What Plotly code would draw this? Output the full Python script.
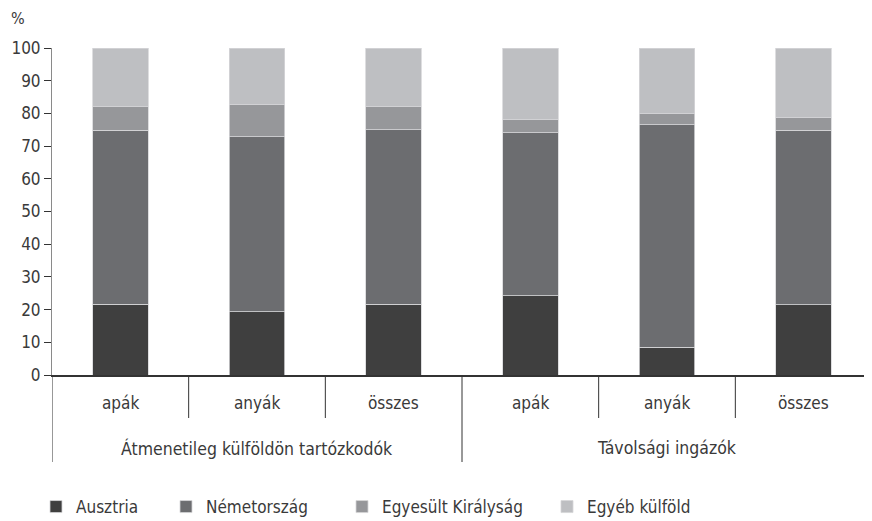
import plotly.graph_objects as go

# Adatok
groups = ['Átmenetileg külföldön tartózkodók', 'Távolsági ingázók']
subgroups = ['apák', 'anyák', 'összes', 'apák', 'anyák', 'összes']
series = ['Ausztria', 'Németország', 'Egyesült Királyság', 'Egyéb külföld']
ausztria = [21.6, 19.3, 21.7, 24.3, 8.5, 21.5]
nemetorszag = [53.2, 53.6, 53.3, 49.8, 68.0, 53.3]
egyesult_kiralysag = [7.2, 9.7, 7.0, 3.9, 3.4, 3.9]
egyeb = [18.0, 17.4, 18.0, 22.0, 20.1, 21.3]
y_ticks = [0, 10, 20, 30, 40, 50, 60, 70, 80, 90, 100]

colors = ['#3f3f3f', '#6c6d70', '#96979a', '#bebfc2']
FONT = 'Liberation Sans Narrow, DejaVu Sans Condensed, sans-serif'
TXT = '#3a3a3a'
# a böngésző 8px-es body margója miatt minden 8px-lel beljebb
OFF = 8
W, H = 872 - OFF, 521 - OFF
L, T = 52 - OFF, 48 - OFF
Y0 = 375 - OFF          # x tengely vonala
B = H - Y0
PH = Y0 - T

x = list(range(len(subgroups)))
fig = go.Figure()
legend_x = [49, 179, 355, 560]   # jelölő négyzetek bal széle a referencián
legend_names = ['legend', 'legend2', 'legend3', 'legend4']
for name, vals, col, lg in zip(series, [ausztria, nemetorszag, egyesult_kiralysag, egyeb], colors, legend_names):
    fig.add_trace(go.Bar(x=x, y=vals, name=name, legend=lg,
                         marker=dict(color=col, line=dict(color='#d6d6d8', width=0.8))))

# Elválasztó vonalak a kategóriák alatt
shapes = []
for b in [0.5, 1.5, 3.5, 4.5]:
    shapes.append(dict(type='line', xref='x', yref='paper', x0=b, x1=b, y0=0, y1=-(418 - 375) / PH,
                       line=dict(color='#333333', width=1)))
for b in [-0.5, 2.5]:
    shapes.append(dict(type='line', xref='x', yref='paper', x0=b, x1=b, y0=0, y1=-(462 - 375) / PH,
                       line=dict(color='#333333', width=1)))

annotations = [
    dict(text=groups[0], x=1, y=-(448 - 375) / PH, xref='x', yref='paper', showarrow=False,
         font=dict(family=FONT, size=17.5, color=TXT), yanchor='middle'),
    dict(text=groups[1], x=4, y=-(448 - 375) / PH, xref='x', yref='paper', showarrow=False,
         font=dict(family=FONT, size=17.5, color=TXT), yanchor='middle'),
    dict(text='%', x=(18 - 52) / (W - L), y=(375 - 18) / PH, xref='paper', yref='paper', showarrow=False,
         font=dict(family=FONT, size=16, color=TXT), xanchor='center', yanchor='middle'),
]
for i, s in enumerate(subgroups):
    annotations.append(dict(text=s, x=i, y=-(403 - 375) / PH, xref='x', yref='paper', showarrow=False,
                            font=dict(family=FONT, size=17, color=TXT), yanchor='middle'))

layout_legends = {}
for lg, lx in zip(legend_names, legend_x):
    layout_legends[lg] = dict(orientation='h', x=(lx - OFF - 13) / W, y=1 - (507 - OFF) / H,
                              xref='container', yref='container',
                              xanchor='left', yanchor='middle', bgcolor='rgba(0,0,0,0)',
                              font=dict(family=FONT, size=17, color=TXT))

fig.update_layout(
    barmode='stack',
    bargap=0.595,
    width=W, height=H,
    margin=dict(l=L, r=0, t=T, b=B, autoexpand=False),
    plot_bgcolor='white', paper_bgcolor='white',
    font=dict(family=FONT, size=17, color=TXT),
    showlegend=True,
    shapes=shapes,
    annotations=annotations,
    **layout_legends,
)
fig.update_xaxes(range=[-0.5, 5.5], showticklabels=False, ticks='', showgrid=False, automargin=False,
                 showline=True, linecolor='#333333', linewidth=1.5, zeroline=False)
fig.update_yaxes(range=[0, 100], tickvals=y_ticks, ticks='outside', ticklen=7, tickcolor='#333333',
                 showgrid=False, showline=True, linecolor='#8a8a8a', linewidth=1, zeroline=False,
                 automargin=False, tickfont=dict(family=FONT, size=17, color=TXT))

fig.write_html('out.html')
